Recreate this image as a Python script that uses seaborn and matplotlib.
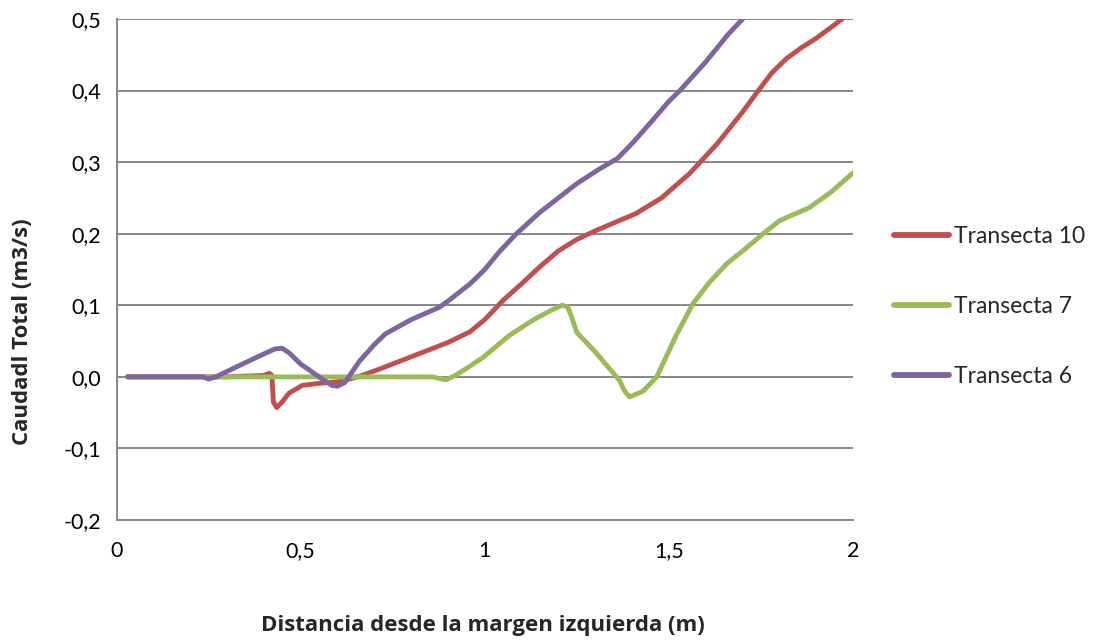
import matplotlib
matplotlib.use("Agg")
import matplotlib.pyplot as plt
import matplotlib.ticker as mticker
from matplotlib.lines import Line2D
import pandas as pd
import seaborn as sns

# Caudal acumulado por transecta (x: distancia en m, y: caudal en m3/s)
t10_x = [0.03, 0.10, 0.20, 0.30, 0.40, 0.415, 0.422, 0.426, 0.435, 0.45, 0.468, 0.504,
         0.55, 0.60, 0.64, 0.667, 0.72, 0.795, 0.85, 0.90, 0.96, 1.00, 1.05, 1.10,
         1.15, 1.20, 1.25, 1.30, 1.35, 1.41, 1.48, 1.556, 1.63, 1.70, 1.74, 1.78,
         1.82, 1.86, 1.90, 1.95, 2.00]
t10_y = [0.0, 0.0, 0.0, 0.0, 0.002, 0.005, 0.002, -0.035, -0.043, -0.035, -0.023, -0.012,
         -0.009, -0.007, -0.002, 0.002, 0.012, 0.027, 0.038, 0.048, 0.063, 0.080, 0.107, 0.130,
         0.154, 0.176, 0.192, 0.204, 0.215, 0.228, 0.250, 0.284, 0.325, 0.370, 0.398, 0.425,
         0.445, 0.460, 0.473, 0.492, 0.512]

t7_x = [0.03, 0.20, 0.40, 0.60, 0.80, 0.857, 0.875, 0.895, 0.92, 0.96, 0.995, 1.067,
        1.13, 1.18, 1.21, 1.225, 1.235, 1.25, 1.30, 1.366, 1.38, 1.393, 1.43, 1.467,
        1.52, 1.565, 1.61, 1.657, 1.71, 1.756, 1.80, 1.83, 1.88, 1.94, 2.00]
t7_y = [0.0, 0.0, 0.0, 0.0, 0.0, 0.0, -0.002, -0.004, 0.002, 0.015, 0.027, 0.058,
        0.079, 0.093, 0.100, 0.098, 0.085, 0.062, 0.035, -0.005, -0.020, -0.028, -0.020, 0.0,
        0.058, 0.102, 0.132, 0.158, 0.180, 0.200, 0.218, 0.225, 0.236, 0.258, 0.285]

t6_x = [0.03, 0.10, 0.20, 0.235, 0.25, 0.27, 0.33, 0.40, 0.43, 0.45, 0.47, 0.50, 0.55,
        0.585, 0.60, 0.62, 0.66, 0.70, 0.73, 0.80, 0.876, 0.903, 0.96, 1.00, 1.04,
        1.086, 1.15, 1.25, 1.31, 1.36, 1.40, 1.45, 1.50, 1.53, 1.60, 1.66, 1.70, 1.72]
t6_y = [0.0, 0.0, 0.0, 0.0, -0.003, 0.0, 0.015, 0.032, 0.039, 0.040, 0.033, 0.018, 0.0,
        -0.012, -0.013, -0.008, 0.022, 0.045, 0.060, 0.080, 0.097, 0.107, 0.130, 0.150, 0.175,
        0.200, 0.230, 0.270, 0.290, 0.305, 0.326, 0.355, 0.385, 0.400, 0.440, 0.478, 0.500, 0.515]

series_names = ["Transecta 10", "Transecta 7", "Transecta 6"]
series_colors = ["#C0504D", "#9BBB59", "#8064A2"]

x_ticks = [0, 0.5, 1, 1.5, 2]
y_ticks = [-0.2, -0.1, 0.0, 0.1, 0.2, 0.3, 0.4, 0.5]

frames = []
for name, xs, ys in zip(series_names, [t10_x, t7_x, t6_x], [t10_y, t7_y, t6_y]):
    frames.append(pd.DataFrame({"dist": xs, "caudal": ys, "serie": name}))
df = pd.concat(frames, ignore_index=True)

sns.set_style("white")
plt.rcParams["font.family"] = ["Lato", "DejaVu Sans"]

W, H = 1096, 643
fig = plt.figure(figsize=(W / 100, H / 100), dpi=100)
ax = fig.add_axes([116.5 / W, 1 - 520 / H, 736.5 / W, 501 / H])

sns.lineplot(data=df, x="dist", y="caudal", hue="serie", hue_order=series_names,
             palette=series_colors, sort=False, estimator=None, linewidth=3.5,
             legend=False, ax=ax, zorder=3)
for line in ax.get_lines():
    line.set_solid_capstyle("round")
    line.set_solid_joinstyle("round")

ax.set_xlim(0, 2)
ax.set_ylim(-0.2, 0.5)
ax.set_xticks(x_ticks)
ax.set_yticks(y_ticks)

ax.xaxis.set_major_formatter(mticker.FuncFormatter(
    lambda v, p: ("%g" % v).replace(".", ",")))
ax.yaxis.set_major_formatter(mticker.FuncFormatter(
    lambda v, p: f"{v:.1f}".replace(".", ",").replace("-0,0", "0,0")))

grid_col = "#878787"
ax.yaxis.grid(True, color=grid_col, linewidth=1.4, zorder=0)
ax.xaxis.grid(False)
for side in ["top", "right"]:
    ax.spines[side].set_visible(False)
for side in ["left", "bottom"]:
    ax.spines[side].set_color(grid_col)
    ax.spines[side].set_linewidth(1.4)
ax.tick_params(axis="both", which="major", direction="out", length=6, width=1.4,
               color=grid_col, labelsize=15.5, labelcolor="#000000")
ax.tick_params(axis="y", pad=5)
ax.tick_params(axis="x", pad=9)

ax.set_xlabel("")
ax.set_ylabel("")
label_font = dict(family=["Open Sans", "DejaVu Sans"], fontsize=16, fontweight="bold")
ax.text(0.497, -0.211, "Distancia desde la margen izquierda (m)", transform=ax.transAxes,
        ha="center", va="center", **label_font)
ax.text(-0.127, 0.376, "Caudadl Total (m3/s)", transform=ax.transAxes, rotation=90,
        ha="center", va="center", **label_font)

handles = [Line2D([0], [0], color=c, linewidth=4.2, solid_capstyle="round") for c in series_colors]
ax.legend(handles, series_names, loc="center left", bbox_to_anchor=(1.055, 0.426),
          frameon=False, fontsize=16.5, handlelength=2.4, handletextpad=0.26,
          labelspacing=2.15, borderpad=0, borderaxespad=0)

fig.savefig("out.png", dpi=100)
